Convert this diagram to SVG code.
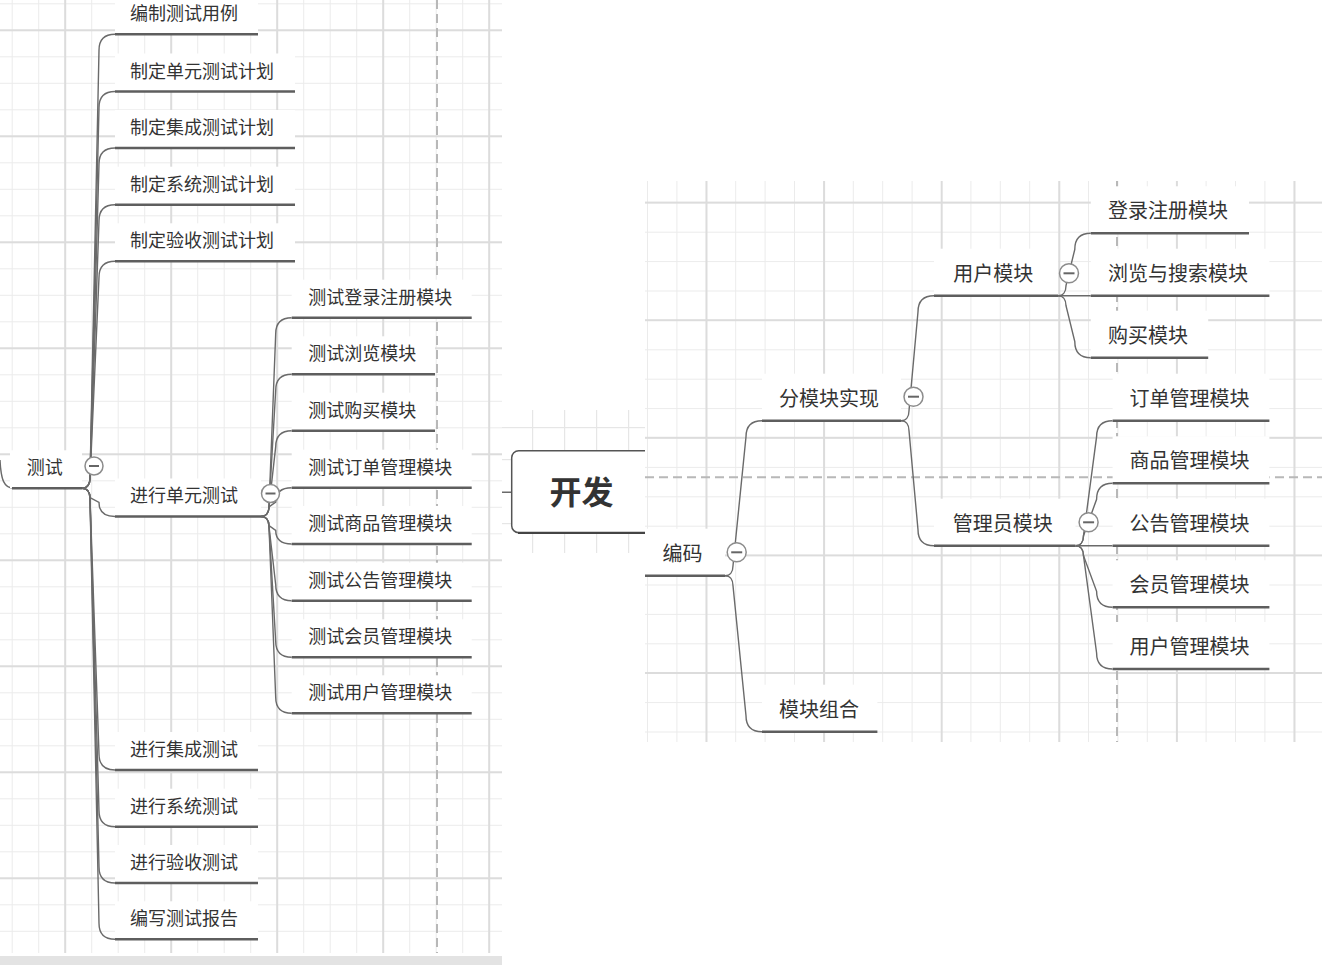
<svg xmlns="http://www.w3.org/2000/svg" width="1322" height="965" viewBox="0 0 1322 965">
<style>
.bx{fill:#ffffff}
.ul{stroke:#5e5e5e;stroke-width:2.5;fill:none}
.cn{stroke:#6a6a6a;stroke-width:1.4;fill:none}
.t18{font-family:"Noto Sans CJK SC","Noto Sans",sans-serif;font-size:18px;fill:#333333}
.t20{font-family:"Noto Sans CJK SC","Noto Sans",sans-serif;font-size:20px;fill:#333333}
.cb{fill:#ffffff;stroke:#8c8c8c;stroke-width:1.5}
.cm{stroke:#666666;stroke-width:2}
.dash{stroke:#b8b8b8;stroke-width:2;stroke-dasharray:9 5;fill:none}
</style>
<defs>
<pattern id="gL" x="11.7" y="3.3" width="26.5" height="26.5" patternUnits="userSpaceOnUse"><rect width="1" height="26.5" fill="#ebebeb"/><rect width="26.5" height="1" fill="#ebebeb"/></pattern>
<pattern id="gLM" x="64.2" y="29.3" width="106" height="106" patternUnits="userSpaceOnUse"><rect width="2" height="106" fill="#dcdcdc"/><rect width="106" height="2" fill="#dcdcdc"/></pattern>
<pattern id="gM" x="532" y="427" width="32" height="32" patternUnits="userSpaceOnUse"><rect width="1.2" height="32" fill="#e6e6e6"/><rect width="32" height="1.2" fill="#e6e6e6"/></pattern>
<pattern id="gR" x="647" y="172.9" width="29.4" height="29.4" patternUnits="userSpaceOnUse"><rect width="1" height="29.4" fill="#ebebeb"/><rect width="29.4" height="1" fill="#ebebeb"/></pattern>
<pattern id="gRM" x="705.5" y="201.6" width="117.6" height="117.6" patternUnits="userSpaceOnUse"><rect width="2" height="117.6" fill="#dcdcdc"/><rect width="117.6" height="2" fill="#dcdcdc"/></pattern>
</defs>
<rect width="1322" height="965" fill="#ffffff"/>

<!-- left panel background -->
<g id="panel-left">
<rect x="0" y="0" width="502" height="953" fill="url(#gL)"/>
<rect x="0" y="0" width="502" height="953" fill="url(#gLM)"/>
<line class="dash" x1="437" y1="0" x2="437" y2="953"/>
<rect x="0" y="956" width="502" height="9" fill="#e3e3e3"/>
</g>

<!-- middle panel background -->
<g id="panel-mid">
<rect x="502" y="410" width="143" height="143" fill="url(#gM)"/>
</g>

<g id="connectors-left">
<path class="cn" d="M0,460 C1,480 4,488.3 14,488.3"/>
<path class="cn" d="M82,488.3 C87,488.3 90,484.3 90,478.3 L99,50.3 Q99,34.3 115,34.3"/>
<path class="cn" d="M82,488.3 C87,488.3 90,484.3 90,478.3 L99,107.5 Q99,91.5 115,91.5"/>
<path class="cn" d="M82,488.3 C87,488.3 90,484.3 90,478.3 L99,164 Q99,148 115,148"/>
<path class="cn" d="M82,488.3 C87,488.3 90,484.3 90,478.3 L99,220.7 Q99,204.7 115,204.7"/>
<path class="cn" d="M82,488.3 C87,488.3 90,484.3 90,478.3 L99,277.3 Q99,261.3 115,261.3"/>
<path class="cn" d="M82,488.3 C87,488.3 90,492.1 90,497.7 L99,502.4 Q99,516.5 115,516.5"/>
<path class="cn" d="M82,488.3 C87,488.3 90,492.3 90,498.3 L99,754 Q99,770 115,770"/>
<path class="cn" d="M82,488.3 C87,488.3 90,492.3 90,498.3 L99,810.7 Q99,826.7 115,826.7"/>
<path class="cn" d="M82,488.3 C87,488.3 90,492.3 90,498.3 L99,867 Q99,883 115,883"/>
<path class="cn" d="M82,488.3 C87,488.3 90,492.3 90,498.3 L99,923.3 Q99,939.3 115,939.3"/>
<path class="cn" d="M261,516.5 C266,516.5 269,512.5 269,506.5 L275.7,333.7 Q275.7,317.7 291.7,317.7"/>
<path class="cn" d="M261,516.5 C266,516.5 269,512.5 269,506.5 L275.7,390.3 Q275.7,374.3 291.7,374.3"/>
<path class="cn" d="M261,516.5 C266,516.5 269,512.5 269,506.5 L275.7,446.7 Q275.7,430.7 291.7,430.7"/>
<path class="cn" d="M261,516.5 C266,516.5 269,512.7 269,506.9 L275.7,502.1 Q275.7,487.7 291.7,487.7"/>
<path class="cn" d="M261,516.5 C266,516.5 269,520.2 269,525.7 L275.7,530.3 Q275.7,544 291.7,544"/>
<path class="cn" d="M261,516.5 C266,516.5 269,520.5 269,526.5 L275.7,584.7 Q275.7,600.7 291.7,600.7"/>
<path class="cn" d="M261,516.5 C266,516.5 269,520.5 269,526.5 L275.7,641.3 Q275.7,657.3 291.7,657.3"/>
<path class="cn" d="M261,516.5 C266,516.5 269,520.5 269,526.5 L275.7,697.3 Q275.7,713.3 291.7,713.3"/>
<line class="cn" x1="502" y1="492.3" x2="512" y2="492.3"/>
</g>

<!-- left nodes -->
<g id="n-ceshi"><rect class="bx" x="10" y="450.3" width="72" height="38"/><text class="t18" x="26.7" y="474">测试</text><line class="ul" x1="12" y1="488.3" x2="82" y2="488.3"/><circle class="cb" cx="94" cy="466" r="9"/><line class="cm" x1="89" y1="466" x2="99" y2="466"/></g>
<g id="n-l1"><rect class="bx" x="115" y="-4" width="143" height="38.3"/><text class="t18" x="130" y="20">编制测试用例</text><line class="ul" x1="115" y1="34.3" x2="258" y2="34.3"/></g>
<g id="n-l2"><rect class="bx" x="115" y="53.5" width="180" height="38"/><text class="t18" x="130" y="77.5">制定单元测试计划</text><line class="ul" x1="115" y1="91.5" x2="295" y2="91.5"/></g>
<g id="n-l3"><rect class="bx" x="115" y="110" width="180" height="38"/><text class="t18" x="130" y="134">制定集成测试计划</text><line class="ul" x1="115" y1="148" x2="295" y2="148"/></g>
<g id="n-l4"><rect class="bx" x="115" y="166.7" width="180" height="38"/><text class="t18" x="130" y="190.7">制定系统测试计划</text><line class="ul" x1="115" y1="204.7" x2="295" y2="204.7"/></g>
<g id="n-l5"><rect class="bx" x="115" y="223.3" width="180" height="38"/><text class="t18" x="130" y="247.3">制定验收测试计划</text><line class="ul" x1="115" y1="261.3" x2="295" y2="261.3"/></g>
<g id="n-l6"><rect class="bx" x="115" y="478.5" width="146" height="38"/><text class="t18" x="130" y="501.5">进行单元测试</text><line class="ul" x1="115" y1="516.5" x2="261" y2="516.5"/><circle class="cb" cx="270.5" cy="493.5" r="9"/><line class="cm" x1="265.5" y1="493.5" x2="275.5" y2="493.5"/></g>
<g id="n-l7"><rect class="bx" x="115" y="732" width="143" height="38"/><text class="t18" x="130" y="756">进行集成测试</text><line class="ul" x1="115" y1="770" x2="258" y2="770"/></g>
<g id="n-l8"><rect class="bx" x="115" y="788.7" width="143" height="38"/><text class="t18" x="130" y="812.7">进行系统测试</text><line class="ul" x1="115" y1="826.7" x2="258" y2="826.7"/></g>
<g id="n-l9"><rect class="bx" x="115" y="845" width="143" height="38"/><text class="t18" x="130" y="869">进行验收测试</text><line class="ul" x1="115" y1="883" x2="258" y2="883"/></g>
<g id="n-l10"><rect class="bx" x="115" y="901.3" width="143" height="38"/><text class="t18" x="130" y="925.3">编写测试报告</text><line class="ul" x1="115" y1="939.3" x2="258" y2="939.3"/></g>

<g id="n-s1"><rect class="bx" x="291.7" y="279.7" width="180" height="38"/><text class="t18" x="308.3" y="303.7">测试登录注册模块</text><line class="ul" x1="291.7" y1="317.7" x2="471.7" y2="317.7"/></g>
<g id="n-s2"><rect class="bx" x="291.7" y="336.3" width="143.3" height="38"/><text class="t18" x="308.3" y="360.3">测试浏览模块</text><line class="ul" x1="291.7" y1="374.3" x2="435" y2="374.3"/></g>
<g id="n-s3"><rect class="bx" x="291.7" y="392.7" width="143.3" height="38"/><text class="t18" x="308.3" y="416.7">测试购买模块</text><line class="ul" x1="291.7" y1="430.7" x2="435" y2="430.7"/></g>
<g id="n-s4"><rect class="bx" x="291.7" y="449.7" width="180" height="38"/><text class="t18" x="308.3" y="473.7">测试订单管理模块</text><line class="ul" x1="291.7" y1="487.7" x2="471.7" y2="487.7"/></g>
<g id="n-s5"><rect class="bx" x="291.7" y="506" width="180" height="38"/><text class="t18" x="308.3" y="530">测试商品管理模块</text><line class="ul" x1="291.7" y1="544" x2="471.7" y2="544"/></g>
<g id="n-s6"><rect class="bx" x="291.7" y="562.7" width="180" height="38"/><text class="t18" x="308.3" y="586.7">测试公告管理模块</text><line class="ul" x1="291.7" y1="600.7" x2="471.7" y2="600.7"/></g>
<g id="n-s7"><rect class="bx" x="291.7" y="619.3" width="180" height="38"/><text class="t18" x="308.3" y="643.3">测试会员管理模块</text><line class="ul" x1="291.7" y1="657.3" x2="471.7" y2="657.3"/></g>
<g id="n-s8"><rect class="bx" x="291.7" y="675.3" width="180" height="38"/><text class="t18" x="308.3" y="699.3">测试用户管理模块</text><line class="ul" x1="291.7" y1="713.3" x2="471.7" y2="713.3"/></g>

<!-- central node -->
<g id="n-kaifa">
<rect x="511.7" y="450.7" width="200" height="82" rx="7" fill="#ffffff" stroke="#555555" stroke-width="1.5"/>
<line x1="518" y1="532.8" x2="645" y2="532.8" stroke="#444444" stroke-width="2.2"/>
<text x="581.5" y="504" text-anchor="middle" font-family="'Noto Sans CJK SC','Noto Sans',sans-serif" font-size="32" font-weight="bold" fill="#333333">开发</text>
</g>

<!-- right panel background -->
<g id="panel-right">
<rect x="645" y="181" width="677" height="561" fill="#ffffff"/>
<rect x="645" y="181" width="677" height="561" fill="url(#gR)"/>
<rect x="645" y="181" width="677" height="561" fill="url(#gRM)"/>
<line class="dash" x1="645" y1="477.3" x2="1322" y2="477.3"/>
<line class="dash" x1="1117" y1="181" x2="1117" y2="742"/>
</g>

<g id="connectors-right">
<path class="cn" d="M725,575.7 C730,575.7 733,571.7 733,565.7 L746,436.7 Q746,420.7 762,420.7"/>
<path class="cn" d="M725,575.7 C730,575.7 733,579.7 733,585.7 L746,715.7 Q746,731.7 762,731.7"/>
<path class="cn" d="M901,420.7 C906,420.7 909,416.7 909,410.7 L918,311.7 Q918,295.7 934,295.7"/>
<path class="cn" d="M901,420.7 C906,420.7 909,424.7 909,430.7 L918,529.7 Q918,545.7 934,545.7"/>
<path class="cn" d="M1058,295.7 C1063,295.7 1066,291.7 1066,285.7 L1074.8,249.3 Q1074.8,233.3 1090.8,233.3"/>
<path class="cn" d="M1058,295.7 L1090.8,295.7"/>
<path class="cn" d="M1058,295.7 C1063,295.7 1066,299.7 1066,305.7 L1074.8,341.7 Q1074.8,357.7 1090.8,357.7"/>
<path class="cn" d="M1075.5,545.7 C1080.5,545.7 1083.5,541.7 1083.5,535.7 L1096.6,436.7 Q1096.6,420.7 1112.6,420.7"/>
<path class="cn" d="M1075.5,545.7 C1080.5,545.7 1083.5,541.7 1083.5,535.7 L1096.6,499.3 Q1096.6,483.3 1112.6,483.3"/>
<path class="cn" d="M1075.5,545.7 L1112.6,545.7"/>
<path class="cn" d="M1075.5,545.7 C1080.5,545.7 1083.5,549.7 1083.5,555.7 L1096.6,591.3 Q1096.6,607.3 1112.6,607.3"/>
<path class="cn" d="M1075.5,545.7 C1080.5,545.7 1083.5,549.7 1083.5,555.7 L1096.6,653 Q1096.6,669 1112.6,669"/>
</g>

<!-- right nodes -->
<g id="n-bianma"><rect class="bx" x="645" y="528.7" width="80" height="47"/><text class="t20" x="662.6" y="560.7">编码</text><line class="ul" x1="645" y1="575.7" x2="725" y2="575.7"/><circle class="cb" cx="736.7" cy="552.3" r="9.5"/><line class="cm" x1="731.2" y1="552.3" x2="742.2" y2="552.3"/></g>
<g id="n-fenmokuai"><rect class="bx" x="762" y="373.7" width="139" height="47"/><text class="t20" x="779" y="405.7">分模块实现</text><line class="ul" x1="762" y1="420.7" x2="901" y2="420.7"/><circle class="cb" cx="913.5" cy="396.7" r="9.5"/><line class="cm" x1="908" y1="396.7" x2="919" y2="396.7"/></g>
<g id="n-zuhe"><rect class="bx" x="762" y="684.7" width="115.4" height="47"/><text class="t20" x="779" y="716.7">模块组合</text><line class="ul" x1="762" y1="731.7" x2="877.4" y2="731.7"/></g>
<g id="n-yonghu"><rect class="bx" x="934" y="248.7" width="124" height="47"/><text class="t20" x="953.3" y="280.7">用户模块</text><line class="ul" x1="934" y1="295.7" x2="1058" y2="295.7"/><circle class="cb" cx="1069" cy="273.3" r="9.5"/><line class="cm" x1="1063.5" y1="273.3" x2="1074.5" y2="273.3"/></g>
<g id="n-guanli"><rect class="bx" x="934" y="498.7" width="141.5" height="47"/><text class="t20" x="952.7" y="530.7">管理员模块</text><line class="ul" x1="934" y1="545.7" x2="1075.5" y2="545.7"/><circle class="cb" cx="1088.6" cy="522.3" r="9.5"/><line class="cm" x1="1083.1" y1="522.3" x2="1094.1" y2="522.3"/></g>
<g id="n-denglu"><rect class="bx" x="1090.8" y="186.3" width="158.2" height="47"/><text class="t20" x="1108" y="218.3">登录注册模块</text><line class="ul" x1="1090.8" y1="233.3" x2="1249" y2="233.3"/></g>
<g id="n-liulan"><rect class="bx" x="1090.8" y="248.7" width="178.6" height="47"/><text class="t20" x="1108" y="280.7">浏览与搜索模块</text><line class="ul" x1="1090.8" y1="295.7" x2="1269.4" y2="295.7"/></g>
<g id="n-goumai"><rect class="bx" x="1090.8" y="310.7" width="117.4" height="47"/><text class="t20" x="1108" y="342.7">购买模块</text><line class="ul" x1="1090.8" y1="357.7" x2="1208.2" y2="357.7"/></g>
<g id="n-dingdan"><rect class="bx" x="1112.6" y="373.7" width="156.8" height="47"/><text class="t20" x="1129.5" y="405.7">订单管理模块</text><line class="ul" x1="1112.6" y1="420.7" x2="1269.4" y2="420.7"/></g>
<g id="n-shangpin"><rect class="bx" x="1112.6" y="436.3" width="156.8" height="47"/><text class="t20" x="1129.5" y="468.3">商品管理模块</text><line class="ul" x1="1112.6" y1="483.3" x2="1269.4" y2="483.3"/></g>
<g id="n-gonggao"><rect class="bx" x="1112.6" y="498.7" width="156.8" height="47"/><text class="t20" x="1129.5" y="530.7">公告管理模块</text><line class="ul" x1="1112.6" y1="545.7" x2="1269.4" y2="545.7"/></g>
<g id="n-huiyuan"><rect class="bx" x="1112.6" y="560.3" width="156.8" height="47"/><text class="t20" x="1129.5" y="592.3">会员管理模块</text><line class="ul" x1="1112.6" y1="607.3" x2="1269.4" y2="607.3"/></g>
<g id="n-yonghuguanli"><rect class="bx" x="1112.6" y="622" width="156.8" height="47"/><text class="t20" x="1129.5" y="654">用户管理模块</text><line class="ul" x1="1112.6" y1="669" x2="1269.4" y2="669"/></g>
</svg>
